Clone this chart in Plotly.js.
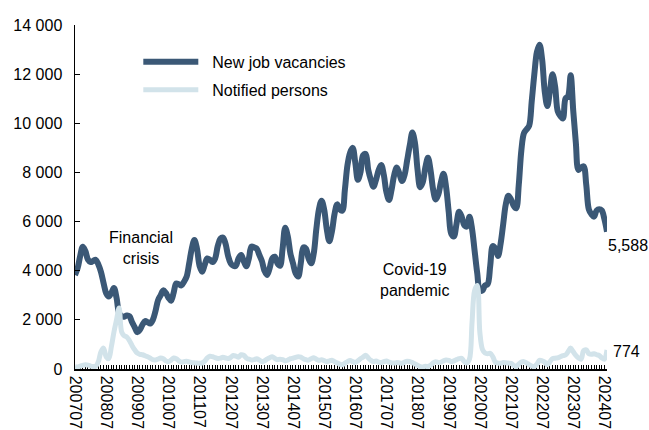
<!DOCTYPE html>
<html>
<head>
<meta charset="utf-8">
<script src="https://cdn.plot.ly/plotly-3.0.1.min.js"></script>
<style>html,body{margin:0;padding:0;background:#fff;}#chart{width:649px;height:430px;}</style>
</head>
<body>
<div id="chart"></div>
<script>
// Monthly series, starting 2007-07 (one value per month)
const startYear = 2007;
const startMonth = 7;

const newJobVacancies = [
  3830,4100,4600,4980,4800,4450,4350,4400,4440,4250,3950,3500,
  3090,2950,3100,3300,2900,2280,2150,2130,2180,2150,1900,1700,
  1500,1600,1800,1950,1900,1850,2000,2350,2800,3000,3200,3100,
  2900,2780,3100,3480,3450,3400,3550,3750,4300,4900,5250,4900,
  4200,3960,4250,4500,4450,4350,4500,5000,5300,5350,5100,4600,
  4300,4200,4200,4500,4640,4400,4180,4500,4980,4950,4900,4650,
  4400,4000,3830,4100,4500,4570,4300,4200,4900,5750,5400,4700,
  4300,3900,3760,4300,4950,4900,4500,4300,4700,5700,6500,6850,
  6500,5700,5200,5600,6300,6700,6500,6450,7300,8300,8800,9000,
  8400,7700,8000,8700,8750,8100,7700,7420,7700,8100,8300,7900,
  7200,6880,7300,7900,8200,7950,7650,7900,8500,9100,9620,9200,
  8100,7400,7600,8200,8600,8100,7300,6900,7100,7600,7950,7400,
  6400,5500,5400,5900,6400,6200,5850,5800,6200,5700,4800,3900,
  3200,3200,3400,3450,4200,5000,4900,4600,5100,5900,6700,7050,
  6900,6650,6540,7500,8900,9600,9750,9900,10900,12000,12900,13200,
  12600,11300,10700,11300,12000,11500,10500,10300,10200,11000,11100,11950,
  10500,9200,8100,8200,8250,7500,6500,6300,6200,6450,6500,6450,
  6100,5588
];

const notifiedPersons = [
  100,80,120,150,170,160,120,100,110,300,700,850,
  500,420,900,1500,2000,2480,1500,1350,1300,1150,950,780,
  650,600,580,540,500,440,380,370,400,450,420,330,
  300,360,450,420,330,280,300,320,290,260,250,240,
  230,250,320,450,520,500,460,430,440,480,450,430,
  470,550,520,480,580,560,450,400,370,380,420,370,
  300,330,400,460,500,430,380,400,380,330,360,420,
  440,470,500,480,420,380,360,420,460,400,350,380,
  340,300,330,360,300,250,200,170,240,300,350,300,
  270,330,420,480,560,450,350,300,330,280,260,300,
  330,280,250,240,260,250,230,280,320,300,260,200,
  150,100,80,110,100,150,250,300,270,280,330,370,
  350,300,330,380,420,430,300,250,400,1900,3200,3400,
  1500,800,650,620,640,500,280,240,230,260,250,240,
  230,150,100,200,280,300,250,180,120,100,200,350,
  330,280,170,300,420,440,450,500,540,570,700,850,
  700,550,450,400,750,780,620,600,620,580,550,450,
  400,774
];

const tickLabels = ['200707','200807','200907','201007','201107','201207','201307','201407','201507',
  '201607','201707','201807','201907','202007','202107','202207','202307','202407'];

const seriesNames = ['New job vacancies', 'Notified persons'];
const lastLabels = ['5,588', '774'];

// category labels YYYYMM
const months = [];
for (let i = 0; i < newJobVacancies.length; i++) {
  const m0 = startMonth - 1 + i;
  const y = startYear + Math.floor(m0 / 12);
  const m = (m0 % 12) + 1;
  months.push(String(y) + (m < 10 ? '0' + m : String(m)));
}
const tickText = months.map(m => tickLabels.includes(m) ? m : '');

const FONT = '"Liberation Sans", Arial, sans-serif';
const PAD = '\u00a0\u00a0';

const traces = [
  {
    x: months, y: newJobVacancies, name: PAD + seriesNames[0], legendgroup: 'a',
    type: 'scatter', mode: 'lines',
    line: {color: '#3B5876', width: 6, shape: 'spline', smoothing: 1},
    hoverinfo: 'skip'
  },
  {
    x: months, y: notifiedPersons, name: PAD + seriesNames[1], legendgroup: 'b',
    type: 'scatter', mode: 'lines',
    line: {color: '#D2E3EA', width: 5, shape: 'spline', smoothing: 1},
    hoverinfo: 'skip'
  }
];

const layout = {
  width: 649, height: 430,
  margin: {l: 75, r: 42, t: 25, b: 61, pad: 0},
  paper_bgcolor: '#ffffff', plot_bgcolor: '#ffffff',
  font: {family: FONT, size: 16, color: '#000000'},
  separators: ', ',
  showlegend: true,
  legend: {
    x: 0.119, y: 0.942, xanchor: 'left', yanchor: 'top',
    bgcolor: 'rgba(0,0,0,0)', font: {family: FONT, size: 16, color: '#000'},
    itemwidth: 55, traceorder: 'grouped', tracegroupgap: 4
  },
  xaxis: {
    type: 'category', range: [0, months.length - 1], autorange: false,
    tickmode: 'array', tickvals: months, ticktext: tickText,
    tickangle: 90, ticks: 'inside', ticklen: 4, tickwidth: 1, tickcolor: '#000',
    showline: true, linecolor: '#000', linewidth: 1.5,
    showgrid: false, zeroline: false, layer: 'below traces', ticklabelstandoff: 2,
    tickfont: {family: FONT, size: 16, color: '#000'}
  },
  yaxis: {
    range: [0, 14000], autorange: false, tickmode: 'linear', tick0: 0, dtick: 2000,
    tickformat: ',d', ticks: 'inside', ticklen: 5, tickcolor: '#000',
    showline: true, linecolor: '#000', linewidth: 1.5,
    showgrid: false, zeroline: false, ticklabelstandoff: 8,
    tickfont: {family: FONT, size: 16, color: '#000'}
  },
  annotations: [
    {xref: 'paper', yref: 'paper', x: 0.124, y: 0.352, text: 'Financial<br>crisis',
     showarrow: false, xanchor: 'center', yanchor: 'middle', font: {family: FONT, size: 16, color: '#000'}},
    {xref: 'paper', yref: 'paper', x: 0.639, y: 0.259, text: 'Covid-19<br>pandemic',
     showarrow: false, xanchor: 'center', yanchor: 'middle', font: {family: FONT, size: 16, color: '#000'}},
    {xref: 'paper', yref: 'paper', x: 0.998, y: 0.36, text: lastLabels[0],
     showarrow: false, xanchor: 'left', yanchor: 'middle', font: {family: FONT, size: 16, color: '#000'}},
    {xref: 'paper', yref: 'paper', x: 1.008, y: 0.05, text: lastLabels[1],
     showarrow: false, xanchor: 'left', yanchor: 'middle', font: {family: FONT, size: 16, color: '#000'}}
  ]
};

Plotly.newPlot('chart', traces, layout, {staticPlot: true, displayModeBar: false});
</script>
</body>
</html>
